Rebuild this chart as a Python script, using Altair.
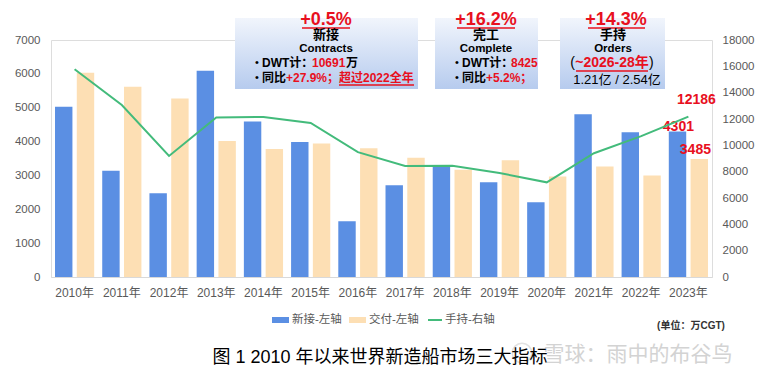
import altair as alt
import pandas as pd

# ---------------- data ----------------
years = ["2010年", "2011年", "2012年", "2013年", "2014年", "2015年", "2016年",
         "2017年", "2018年", "2019年", "2020年", "2021年", "2022年", "2023年"]
new_orders = [5030, 3140, 2470, 6090, 4590, 3990, 1650, 2710, 3310, 2800, 2205, 4805, 4275, 4301]
deliveries = [6030, 5620, 5270, 4020, 3780, 3940, 3800, 3520, 3170, 3450, 2965, 3265, 2995, 3485]
orderbook = [15780, 13060, 9190, 12120, 12150, 11700, 9480, 8430, 8440, 7900, 7190, 9400, 10700, 12186]
series_names = ["新接", "交付"]
left_ticks = [0, 1000, 2000, 3000, 4000, 5000, 6000, 7000]
right_ticks = [0, 2000, 4000, 6000, 8000, 10000, 12000, 14000, 16000, 18000]

FONT = "Liberation Sans, Noto Sans CJK SC, sans-serif"
BLUE = "#5B8FE3"
ORANGE = "#FDDFB4"
GREEN = "#43BB7B"
RED = "#E8101E"
GREY = "#595959"

L, T = 51, 40          # plot-area origin in the page
W, H = 661, 237

bar_df = pd.DataFrame({
    "year": years * 2,
    "series": [series_names[0]] * len(years) + [series_names[1]] * len(years),
    "value": new_orders + deliveries,
})
line_df = pd.DataFrame({"year": years, "orderbook": orderbook})
one = pd.DataFrame({"k": [0]})

xenc = alt.X("year:N", sort=years, title=None,
             scale=alt.Scale(paddingInner=0.17, paddingOuter=0.085),
             axis=alt.Axis(labelFontSize=12, labelColor=GREY, labelFont=FONT,
                           ticks=False, tickSize=0, labelPadding=10,
                           domainColor="#D9D9D9", labelAngle=0, grid=False,
                           labelOverlap=False))

left_axis = alt.Axis(orient="left", values=left_ticks, format="d", labelOverlap=False,
                     grid=False, domain=False, ticks=False, tickSize=0, labelPadding=11,
                     labelFontSize=11.5, labelColor=GREY, labelFont=FONT)
right_axis = alt.Axis(orient="right", values=right_ticks, format="d", labelOverlap=False,
                      grid=False, domain=False, ticks=False, tickSize=0, labelPadding=10,
                      labelFontSize=11.5, labelColor=GREY, labelFont=FONT)
yleft = alt.Y("value:Q", title=None, scale=alt.Scale(domain=[0, 7000]), axis=left_axis)
yright = alt.Y("orderbook:Q", title=None, scale=alt.Scale(domain=[0, 18000]), axis=right_axis)

bars = alt.Chart(bar_df).mark_bar().encode(
    x=xenc,
    xOffset=alt.XOffset("series:N", sort=series_names, scale=alt.Scale(paddingInner=0.2)),
    y=yleft,
    color=alt.Color("series:N", scale=alt.Scale(domain=series_names, range=[BLUE, ORANGE]),
                    legend=None),
)

lab_new = alt.Chart(pd.DataFrame({"year": [years[-1]], "value": [new_orders[-1]]})).mark_text(
    font=FONT, fontSize=14, fontWeight="bold", color=RED, dx=-10, dy=-4.5, baseline="middle"
).encode(x=xenc, y=yleft, text="value:Q")
lab_del = alt.Chart(pd.DataFrame({"year": [years[-1]], "value": [deliveries[-1]]})).mark_text(
    font=FONT, fontSize=14, fontWeight="bold", color=RED, dx=7, dy=-9, baseline="middle"
).encode(x=xenc, y=yleft, text="value:Q")

left_group = alt.layer(bars, lab_new, lab_del)

line = alt.Chart(line_df).mark_line(color=GREEN, strokeWidth=2).encode(
    x=xenc, y=yright,
)
lab_ob = alt.Chart(pd.DataFrame({"year": [years[-1]], "orderbook": [orderbook[-1]]})).mark_text(
    font=FONT, fontSize=14, fontWeight="bold", color=RED, dx=8, dy=-16.5, baseline="middle"
).encode(x=xenc, y=yright, text="orderbook:Q")

right_group = alt.layer(line, lab_ob)


# ---------------- decorations ----------------
def txt(s, x, y, size, color="#000000", weight="normal", align="left"):
    return alt.Chart(one).mark_text(
        text=s, align=align, baseline="middle", fontSize=size, fontWeight=weight,
        color=color, font=FONT
    ).encode(x=alt.value(x - L), y=alt.value(y - T))


def rule(x1, x2, y, color=RED, width=1.5):
    return alt.Chart(one).mark_rule(color=color, strokeWidth=width).encode(
        x=alt.value(x1 - L), x2=alt.value(x2 - L), y=alt.value(y - T))


grad = alt.Gradient(gradient="linear", x1=0, y1=0, x2=0, y2=1,
                    stops=[alt.GradientStop(color="#F1F5FC", offset=0),
                           alt.GradientStop(color="#B6CBEE", offset=1)])


def box(x1, x2, y1, y2):
    return alt.Chart(one).mark_rect(color=grad).encode(
        x=alt.value(x1 - L), x2=alt.value(x2 - L), y=alt.value(y1 - T), y2=alt.value(y2 - T))


def swatch(x1, x2, y1, y2, color):
    return alt.Chart(one).mark_rect(color=color).encode(
        x=alt.value(x1 - L), x2=alt.value(x2 - L), y=alt.value(y1 - T), y2=alt.value(y2 - T))


decor = [
    # box 1 : contracts
    box(235, 418, 18, 89),
    txt("+0.5%", 326, 19.5, 18, RED, "bold", "center"),
    rule(302, 350, 28),
    txt("新接", 326, 35, 13, "#000000", "bold", "center"),
    txt("Contracts", 326, 49, 11.5, "#000000", "bold", "center"),
    txt("•", 255, 63, 11), txt("•", 255, 78, 11),
    txt("DWT计：", 262, 63, 12, "#000000", "bold"),
    txt("10691", 312, 63, 12, RED, "bold"),
    txt("万", 346, 63, 12, "#000000", "bold"),
    txt("同比", 262, 78, 12, "#000000", "bold"),
    txt("+27.9%；", 286, 78, 12, RED, "bold"),
    txt("超过2022全年", 339, 78, 12, RED, "bold"),
    rule(339, 414, 85),
    # box 2 : complete
    box(435, 538, 18, 89),
    txt("+16.2%", 486, 19.5, 18, RED, "bold", "center"),
    rule(457, 515, 28),
    txt("完工", 486, 35, 13, "#000000", "bold", "center"),
    txt("Complete", 486, 49, 11.5, "#000000", "bold", "center"),
    txt("•", 455, 63, 11), txt("•", 455, 78, 11),
    txt("DWT计：", 462, 63, 12, "#000000", "bold"),
    txt("8425", 511, 63, 12, RED, "bold"),
    txt("同比", 462, 78, 12, "#000000", "bold"),
    txt("+5.2%；", 486, 78, 12, RED, "bold"),
    # box 3 : orders
    box(560, 665, 18, 89),
    txt("+14.3%", 616, 19.5, 18, RED, "bold", "center"),
    rule(588, 645, 28),
    txt("手持", 613, 35, 13, "#000000", "bold", "center"),
    txt("Orders", 613, 49, 11.5, "#000000", "bold", "center"),
    txt("(", 575, 63, 14, "#000000", "normal", "right"),
    txt("~2026-28年", 612, 63, 14, RED, "bold", "center"),
    txt(")", 649, 63, 14, "#000000", "normal", "left"),
    rule(576, 648, 71),
    txt("1.21亿 / 2.54亿", 617, 80, 13, "#000000", "normal", "center"),
    # legend
    swatch(272, 289, 317, 323, BLUE),
    txt("新接-左轴", 292, 320, 11.5, GREY),
    swatch(349, 366, 317, 323, ORANGE),
    txt("交付-左轴", 369, 320, 11.5, GREY),
    rule(428, 442, 320, GREEN, 2),
    txt("手持-右轴", 445, 320, 11.5, GREY),
    # unit note
    txt("(单位：万CGT)", 691, 326, 10, "#333333", "bold", "center"),
    # watermark
    alt.Chart(one).mark_point(shape="circle", size=380, color="#D6D6D6", strokeWidth=1.5,
                              filled=False).encode(x=alt.value(522 - L), y=alt.value(353 - T)),
    txt("雪球：雨中的布谷鸟", 638, 355, 21, "#D3D3D3", "normal", "center"),
    # caption
    txt("图  1 2010 年以来世界新造船市场三大指标", 380, 358, 18, "#000000", "normal", "center"),
]

chart = alt.layer(left_group, right_group, *decor).resolve_scale(
    y="independent"
).properties(
    width=W, height=H,
    autosize=alt.AutoSizeParams(type="none"),
    padding={"left": L, "top": T, "right": 760 - L - W, "bottom": 378 - T - H},
).configure_view(stroke=None).configure(background="white")

chart.save("out.html", embed_options={"renderer": "svg", "actions": False})
